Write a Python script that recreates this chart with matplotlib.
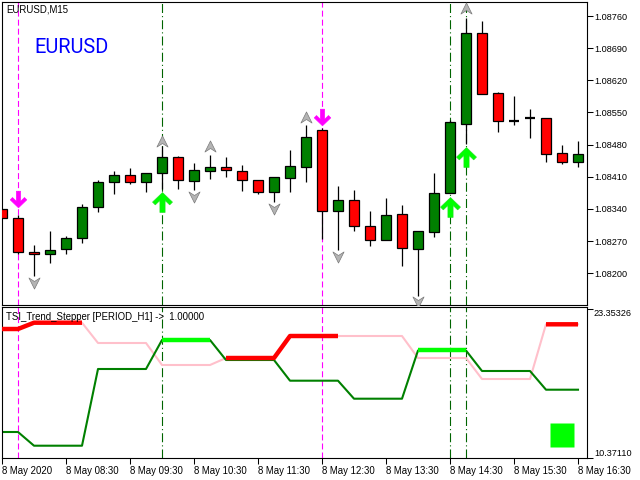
import numpy as np
import matplotlib
matplotlib.use("Agg")
import matplotlib.pyplot as plt
from matplotlib.path import Path

plt.rcParams['font.family'] = ['Liberation Sans', 'DejaVu Sans']
plt.rcParams['lines.scale_dashes'] = False

# ---------------- data ----------------
opens  = [1.08340, 1.08320, 1.08246, 1.08242, 1.08253, 1.08277, 1.08344, 1.08399, 1.08414, 1.08399,
          1.08418, 1.08453, 1.08401, 1.08422, 1.08431, 1.08422, 1.08402, 1.08376, 1.08407, 1.08431,
          1.08511, 1.08335, 1.08359, 1.08302, 1.08272, 1.08329, 1.08252, 1.08289, 1.08374, 1.08526,
          1.08722, 1.08592, 1.08532, 1.08537, 1.08538, 1.08461, 1.08443]
highs  = [1.08340, 1.08327, 1.08262, 1.08293, 1.08281, 1.08351, 1.08403, 1.08423, 1.08430, 1.08418,
          1.08476, 1.08455, 1.08440, 1.08458, 1.08453, 1.08436, 1.08403, 1.08409, 1.08468, 1.08522,
          1.08516, 1.08391, 1.08381, 1.08336, 1.08364, 1.08349, 1.08292, 1.08418, 1.08534, 1.08756,
          1.08749, 1.08594, 1.08586, 1.08558, 1.08538, 1.08479, 1.08488]
lows   = [1.08320, 1.08242, 1.08194, 1.08223, 1.08241, 1.08265, 1.08334, 1.08373, 1.08394, 1.08376,
          1.08384, 1.08384, 1.08382, 1.08406, 1.08410, 1.08380, 1.08373, 1.08356, 1.08376, 1.08399,
          1.08274, 1.08251, 1.08291, 1.08260, 1.08272, 1.08216, 1.08151, 1.08280, 1.08374, 1.08481,
          1.08591, 1.08508, 1.08523, 1.08495, 1.08442, 1.08438, 1.08432]
closes = [1.08320, 1.08246, 1.08242, 1.08251, 1.08277, 1.08344, 1.08399, 1.08414, 1.08399, 1.08418,
          1.08453, 1.08402, 1.08425, 1.08431, 1.08424, 1.08402, 1.08376, 1.08409, 1.08434, 1.08497,
          1.08335, 1.08359, 1.08302, 1.08272, 1.08326, 1.08256, 1.08292, 1.08374, 1.08529, 1.08722,
          1.08591, 1.08531, 1.08532, 1.08537, 1.08460, 1.08443, 1.08459]

price_ticks = [1.08200, 1.08270, 1.08340, 1.08410, 1.08480, 1.08550, 1.08620, 1.08690, 1.08760]

time_tick_bars = [0, 4, 8, 12, 16, 20, 24, 28, 32, 36]
time_tick_labels = ["8 May 2020", "8 May 08:30", "8 May 09:30", "8 May 10:30", "8 May 11:30",
                    "8 May 12:30", "8 May 13:30", "8 May 14:30", "8 May 15:30", "8 May 16:30"]

up_chevron_bars = [10, 13, 19, 29]
up_chevron_prices = [1.08487, 1.08476, 1.08541, 1.08777]
down_chevron_bars = [2, 12, 17, 21, 26]
down_chevron_prices = [1.08179, 1.08365, 1.08340, 1.08235, 1.08138]

buy_arrow_bars = [10, 28, 29]
buy_arrow_prices = [1.08355, 1.08344, 1.08454]
sell_arrow_bars = [1, 20]
sell_arrow_prices = [1.08361, 1.08540]

# indicator
pink_line = [21.648, 21.648, 22.199, 22.199, 22.199, 22.199, 20.425, 20.425, 20.425, 20.425,
             18.501, 18.501, 18.501, 18.501, 19.113, 19.113, 19.113, 19.113, 21.036, 21.036,
             21.036, 21.036, 21.036, 21.036, 21.036, 21.036, 19.113, 19.113, 19.113, 19.113,
             17.277, 17.277, 17.277, 17.277, 22.059, 22.059, 22.059]
green_line = [12.644, 12.644, 11.446, 11.446, 11.446, 11.446, 18.152, 18.152, 18.152, 18.152,
              20.687, 20.687, 20.687, 20.687, 18.938, 18.938, 18.938, 18.938, 17.129, 17.129,
              17.129, 17.129, 15.555, 15.555, 15.555, 15.555, 19.769, 19.769, 19.769, 19.769,
              17.977, 17.977, 17.977, 17.977, 16.342, 16.342, 16.342]
trend = ['R', 'R', 'R', 'R', 'R', 'R', '', '', '', '',
         'G', 'G', 'G', 'G', 'R', 'R', 'R', 'R', 'R', 'R',
         'R', 'R', '', '', '', '', 'G', 'G', 'G', 'G',
         '', '', '', '', 'R', 'R', 'R']
ind_ticks = [10.37110, 23.35326]
square_bar = [35]
square_value = [12.382]

# ---------------- figure ----------------
W, H = 640, 480
fig = plt.figure(figsize=(6.4, 4.8), dpi=100)
fig.patch.set_facecolor('white')
ax = fig.add_axes([2 / W, 1 - 305 / H, 585 / W, 303 / H])
ax2 = fig.add_axes([2 / W, 1 - 458 / H, 585 / W, 151 / H])

n = len(opens)
x = np.arange(n)
o = np.array(opens); c = np.array(closes); hi = np.array(highs); lo = np.array(lows)

# wicks
ax.vlines(x, lo, hi, color='black', linewidth=0.9, zorder=2)
# bodies
bull = c > o
bear = c < o
doji = c == o
ax.bar(x[bull], (c - o)[bull], bottom=o[bull], width=0.6, color='#008000',
       edgecolor='black', linewidth=0.9, zorder=3)
ax.bar(x[bear], (o - c)[bear], bottom=c[bear], width=0.6, color='#FF0000',
       edgecolor='black', linewidth=0.9, zorder=3)
ax.hlines(c[doji], x[doji] - 0.33, x[doji] + 0.33, color='black', linewidth=1.6, zorder=3)

# markers
up_chev = Path([(0, 0.5), (0.5, -0.5), (0, -0.18), (-0.5, -0.5), (0, 0.5)],
               [Path.MOVETO, Path.LINETO, Path.LINETO, Path.LINETO, Path.CLOSEPOLY])
down_chev = Path([(0, -0.5), (0.5, 0.5), (0, 0.18), (-0.5, 0.5), (0, -0.5)],
                 [Path.MOVETO, Path.LINETO, Path.LINETO, Path.LINETO, Path.CLOSEPOLY])
ax.plot(up_chevron_bars, up_chevron_prices, linestyle='none', marker=up_chev, markersize=8,
        markerfacecolor='#b4b4b4', markeredgecolor='#7a7a7a', markeredgewidth=0.5, zorder=4)
ax.plot(down_chevron_bars, down_chevron_prices, linestyle='none', marker=down_chev, markersize=8,
        markerfacecolor='#b4b4b4', markeredgecolor='#7a7a7a', markeredgewidth=0.5, zorder=4)

arrow_up_v = [(0, 0.5), (0.5, 0.02), (0.36, -0.12), (0.13, 0.1), (0.13, -0.5), (-0.13, -0.5),
              (-0.13, 0.1), (-0.36, -0.12), (-0.5, 0.02), (0, 0.5)]
arrow_up = Path(arrow_up_v, [Path.MOVETO] + [Path.LINETO] * 8 + [Path.CLOSEPOLY])
arrow_down = Path([(vx, -vy) for vx, vy in arrow_up_v], [Path.MOVETO] + [Path.LINETO] * 8 + [Path.CLOSEPOLY])
ax.plot(buy_arrow_bars, buy_arrow_prices, linestyle='none', marker=arrow_up, markersize=14.4,
        markerfacecolor='#00FF00', markeredgecolor='#22dd22', markeredgewidth=0.4, zorder=5)
ax.plot(sell_arrow_bars, sell_arrow_prices, linestyle='none', marker=arrow_down, markersize=12,
        markerfacecolor='#FF00FF', markeredgecolor='#FF00FF', markeredgewidth=0.4, zorder=5)

# vertical signal lines on both panels
for a in (ax, ax2):
    for b in sell_arrow_bars:
        a.axvline(b, color='#FF00FF', linewidth=0.8, linestyle=(0, (4.3, 2.2)), zorder=1)
    for b in buy_arrow_bars:
        a.axvline(b, color='#006400', linewidth=0.8, linestyle=(0, (6.5, 2.2, 0.8, 2.2)), zorder=1)

ax.set_xlim(0, 36.5625)
ax.set_ylim(1.08131, 1.087905)
ax.set_xticks([])
ax.yaxis.tick_right()
ax.set_yticks(price_ticks)
ax.set_yticklabels(['%.5f' % t for t in price_ticks])
ax.tick_params(axis='y', direction='out', length=4, width=0.75, pad=1, labelsize=6.6, colors='black')

# indicator panel
pk = np.array(pink_line); gr = np.array(green_line); tr = np.array(trend)
ax2.plot(x, pk, color='#FFC0CB', linewidth=1.5, zorder=2)
ax2.plot(x, gr, color='#008000', linewidth=1.5, zorder=2)
thick_red = np.where(tr == 'R', pk, np.nan)
thick_green = np.where(tr == 'G', gr, np.nan)
ax2.plot(x, thick_red, color='#FF0000', linewidth=3.2, zorder=3, solid_capstyle='butt')
ax2.plot(x, thick_green, color='#00FF00', linewidth=3.2, zorder=3, solid_capstyle='butt')
ax2.plot(square_bar, square_value, linestyle='none', marker='s', markersize=17,
         markerfacecolor='#00FF00', markeredgecolor='none', zorder=3)

ax2.set_xlim(0, 36.5625)
ax2.set_ylim(10.37110, 23.5718)
ax2.yaxis.tick_right()
ax2.set_yticks(ind_ticks)
ax2.set_yticklabels(['%.5f' % t for t in ind_ticks])
ax2.tick_params(axis='y', direction='out', length=4, width=0.75, pad=1, labelsize=6.6)
ylabs = ax2.get_yticklabels()
ylabs[0].set_va('bottom')
ylabs[1].set_va('top')
ax2.set_xticks(time_tick_bars)
ax2.set_xticklabels(time_tick_labels)
ax2.tick_params(axis='x', direction='out', length=4, width=0.75, pad=1.5, labelsize=6.9)
for lbl in ax2.get_xticklabels():
    lbl.set_ha('left')

for a in (ax, ax2):
    for s in a.spines.values():
        s.set_linewidth(0.8)
        s.set_color('black')
    a.set_facecolor('white')

# texts
fig.text(6 / W, 1 - 12.5 / H, 'EURUSD,M15', fontsize=6.9, color='black', va='baseline', ha='left')
fig.text(34 / W, 1 - 53 / H, 'EURUSD', fontsize=14.4, color='#0000FF', va='baseline', ha='left',
         family=['Roboto', 'DejaVu Sans'])
fig.text(6 / W, 1 - 320 / H, 'TSI_Trend_Stepper [PERIOD_H1] ->  1.00000', fontsize=6.9,
         color='black', va='baseline', ha='left')

fig.savefig('out.png', dpi=100, facecolor='white')
